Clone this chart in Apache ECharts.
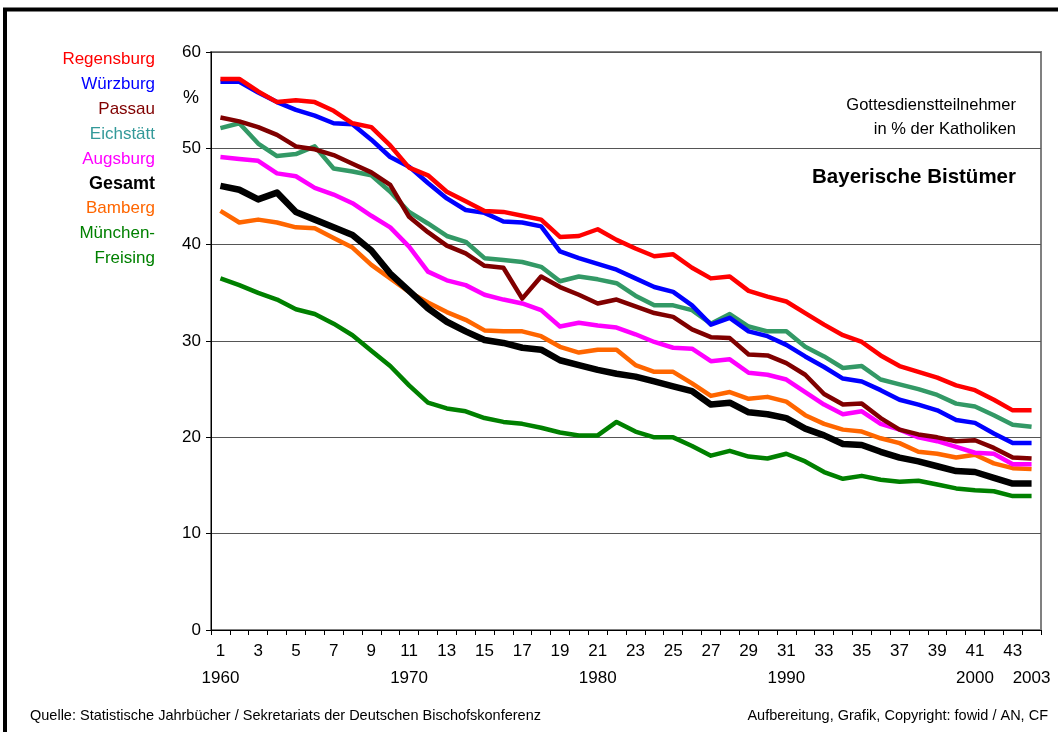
<!DOCTYPE html>
<html>
<head>
<meta charset="utf-8">
<title>Bayerische Bistümer</title>
<script src="https://cdn.jsdelivr.net/npm/echarts@6/dist/echarts.min.js"></script>
<style>
  html, body { margin: 0; padding: 0; background: #fff; }
  #chart { width: 1058px; height: 732px; }
</style>
</head>
<body>
<div id="chart"></div>
<script>
// laufende Nummer 1..44 (1960..2003)
var categories = ['1','2','3','4','5','6','7','8','9','10','11','12','13','14','15','16','17','18','19','20','21','22',
                  '23','24','25','26','27','28','29','30','31','32','33','34','35','36','37','38','39','40','41','42','43','44'];
var numberLabels = ['1','3','5','7','9','11','13','15','17','19','21','23','25','27','29','31','33','35','37','39','41','43'];
var yearLabels = { '1': '1960', '11': '1970', '21': '1980', '31': '1990', '41': '2000', '44': '2003' };

var regensburg = [57.2,57.2,55.9,54.8,55.0,54.8,53.9,52.6,52.2,50.3,48.0,47.2,45.5,44.5,43.5,43.4,43.0,42.6,40.8,40.9,41.6,40.5,
                  39.6,38.8,39.0,37.6,36.5,36.7,35.2,34.6,34.1,32.9,31.7,30.6,29.9,28.5,27.4,26.8,26.2,25.4,24.9,23.9,22.8,22.8];
var wuerzburg  = [56.9,56.9,55.8,54.8,54.0,53.4,52.6,52.5,50.9,49.1,48.1,46.4,44.8,43.6,43.3,42.4,42.3,41.9,39.3,38.6,38.0,37.4,
                  36.5,35.6,35.1,33.7,31.7,32.4,31.0,30.5,29.6,28.4,27.3,26.1,25.8,24.9,23.9,23.4,22.8,21.8,21.5,20.4,19.4,19.4];
var passau     = [53.2,52.8,52.2,51.4,50.2,49.9,49.3,48.4,47.5,46.2,42.9,41.3,39.9,39.1,37.8,37.6,34.4,36.7,35.6,34.8,33.9,34.3,
                  33.6,32.9,32.5,31.2,30.4,30.3,28.6,28.5,27.7,26.5,24.5,23.4,23.5,22.0,20.8,20.3,20.0,19.6,19.7,18.9,17.9,17.8];
var eichstaett = [52.1,52.6,50.5,49.2,49.4,50.2,47.9,47.6,47.2,45.5,43.4,42.2,40.9,40.3,38.6,38.4,38.2,37.7,36.2,36.7,36.4,36.0,
                  34.7,33.7,33.7,33.2,31.8,32.8,31.5,31.0,31.0,29.4,28.4,27.2,27.4,26.0,25.5,25.0,24.4,23.5,23.2,22.3,21.3,21.1];
var augsburg   = [49.1,48.9,48.7,47.4,47.1,45.9,45.2,44.3,43.0,41.8,39.8,37.2,36.3,35.8,34.8,34.3,33.9,33.2,31.5,31.9,31.6,31.4,
                  30.7,29.9,29.3,29.2,27.9,28.1,26.7,26.5,26.0,24.7,23.4,22.4,22.7,21.4,20.8,20.0,19.6,19.0,18.4,18.3,17.2,17.2];
var gesamt     = [46.1,45.7,44.7,45.4,43.4,42.6,41.8,41.0,39.4,37.0,35.2,33.4,32.0,31.0,30.1,29.8,29.3,29.1,28.0,27.5,27.0,26.6,
                  26.3,25.8,25.3,24.8,23.4,23.6,22.6,22.4,22.0,20.9,20.2,19.3,19.2,18.5,17.9,17.5,17.0,16.5,16.4,15.8,15.2,15.2];
var bamberg    = [43.5,42.3,42.6,42.3,41.8,41.7,40.7,39.7,37.9,36.5,35.1,34.0,33.0,32.2,31.1,31.0,31.0,30.5,29.4,28.8,29.1,29.1,
                  27.5,26.8,26.8,25.6,24.3,24.7,24.0,24.2,23.7,22.3,21.4,20.8,20.6,19.9,19.4,18.5,18.3,17.9,18.2,17.3,16.8,16.7];
var muenchen   = [36.5,35.8,35.0,34.3,33.3,32.8,31.8,30.6,29.0,27.4,25.4,23.6,23.0,22.7,22.0,21.6,21.4,21.0,20.5,20.2,20.2,21.6,
                  20.6,20.0,20.0,19.1,18.1,18.6,18.0,17.8,18.3,17.5,16.4,15.7,16.0,15.6,15.4,15.5,15.1,14.7,14.5,14.4,13.9,13.9];

var legendNames = ['Regensburg', 'Würzburg', 'Passau', 'Eichstätt', 'Augsburg', 'Gesamt', 'Bamberg', 'München-\nFreising'];
var legendColors = ['#ff0000', '#0000ff', '#800000', '#339999', '#ff00ff', '#000000', '#ff6600', '#008000'];

var FONT = '"Liberation Sans", Arial, sans-serif';

function mkLine(name, data, color, width) {
    return {
        name: name,
        type: 'line',
        data: data,
        symbol: 'none',
        smooth: false,
        lineStyle: { color: color, width: width, join: 'round' },
        itemStyle: { color: color },
        animation: false
    };
}

// Legende als Text, rechtsbündig
var legendGraphics = [];
var ly = 57;
legendNames.forEach(function(n, i) {
    legendGraphics.push({
        type: 'text',
        right: 1058 - 155,
        top: ly - 10,
        style: {
            text: n,
            fill: legendColors[i],
            font: (n === 'Gesamt' ? 'bold 18px ' : '17px ') + FONT,
            textAlign: 'right',
            lineHeight: 24.5
        }
    });
    ly += 24.9;
});

var chart = echarts.init(document.getElementById('chart'));
chart.setOption({
    backgroundColor: '#ffffff',
    animation: false,
    textStyle: { fontFamily: FONT },
    grid: {
        left: 211, right: 17, top: 52, bottom: 102,
        show: true, borderColor: '#808080', borderWidth: 2, backgroundColor: '#ffffff'
    },
    xAxis: {
        type: 'category',
        data: categories,
        boundaryGap: true,
        axisLine: { lineStyle: { color: '#000', width: 1 } },
        axisTick: { show: true, interval: 0, length: 5, lineStyle: { color: '#000' } },
        axisLabel: {
            interval: 0,
            margin: 8,
            color: '#000',
            fontSize: 17,
            lineHeight: 27,
            formatter: function(v) {
                var num = numberLabels.indexOf(v) >= 0 ? v : ' ';
                var yr = yearLabels[v] || ' ';
                if (num === ' ' && yr === ' ') return '';
                return num + '\n' + yr;
            }
        },
        splitLine: { show: false }
    },
    yAxis: {
        type: 'value',
        min: 0, max: 60, interval: 10,
        axisLine: { show: true, lineStyle: { color: '#000', width: 1 } },
        axisTick: { show: true, length: 5, lineStyle: { color: '#000' } },
        axisLabel: { color: '#000', fontSize: 17, margin: 10 },
        splitLine: { show: true, lineStyle: { color: '#555', width: 1 } }
    },
    series: [
        mkLine('München-Freising', muenchen, '#008000', 4.5),
        mkLine('Bamberg', bamberg, '#ff6600', 4.5),
        mkLine('Augsburg', augsburg, '#ff00ff', 4.5),
        mkLine('Eichstätt', eichstaett, '#339966', 4.5),
        mkLine('Passau', passau, '#800000', 4.5),
        mkLine('Würzburg', wuerzburg, '#0000ff', 4.5),
        mkLine('Regensburg', regensburg, '#ff0000', 4.5),
        mkLine('Gesamt', gesamt, '#000000', 6.5)
    ],
    graphic: [
        // Rahmen
        {
            type: 'rect', silent: true, z: 100,
            shape: { x: 5, y: 9.5, width: 1100, height: 800 },
            style: { fill: 'none', stroke: '#000', lineWidth: 4 }
        },
        {
            type: 'text', left: 183, top: 89,
            style: { text: '%', fill: '#000', font: '18px ' + FONT }
        },
        {
            type: 'text', right: 42, top: 93,
            style: {
                text: 'Gottesdienstteilnehmer\nin % der Katholiken',
                fill: '#000', font: '16.5px ' + FONT, textAlign: 'right', lineHeight: 24
            }
        },
        {
            type: 'text', right: 42, top: 167,
            style: { text: 'Bayerische Bistümer', fill: '#000', font: 'bold 20.5px ' + FONT, textAlign: 'right' }
        },
        {
            type: 'text', left: 30, top: 708,
            style: {
                text: 'Quelle: Statistische Jahrbücher / Sekretariats der Deutschen Bischofskonferenz',
                fill: '#000', font: '14.5px ' + FONT
            }
        },
        {
            type: 'text', right: 10, top: 708,
            style: { text: 'Aufbereitung, Grafik, Copyright: fowid / AN, CF', fill: '#000', font: '14.5px ' + FONT }
        }
    ].concat(legendGraphics)
});
</script>
</body>
</html>
